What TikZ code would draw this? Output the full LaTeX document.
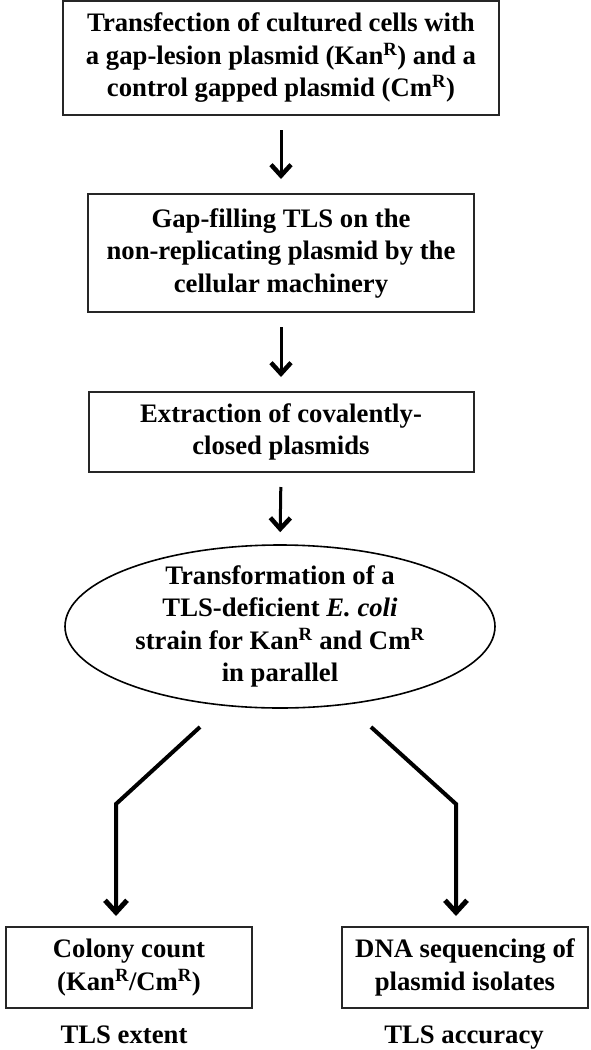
\documentclass[tikz,border=0pt]{standalone}
\usepackage{fontspec}
\setmainfont{Liberation Serif}
\usetikzlibrary{shapes.geometric,arrows.meta}
\begin{document}
\begin{tikzpicture}[x=1pt,y=-1pt,
  txt/.style={font=\bfseries\fontsize{26.7}{32.5}\selectfont, align=center, inner sep=0pt},
  stepbox/.style={txt, draw=black!85, line width=2pt, rectangle},
  arr/.style={line width=3pt, -{Straight Barb[length=11pt,width=20pt,line width=4.5pt 0]}},
  arrb/.style={line width=4pt, line join=miter, -{Straight Barb[length=12pt,width=22pt,line width=5pt 0]}}]
\useasboundingbox (0,0) rectangle (591,1050);
\node[stepbox, minimum width=436pt, minimum height=114pt] (b1) at (281,58)
  {Transfection of cultured cells with\\ a gap-lesion plasmid (Kan\textsuperscript{R}) and a\\ control gapped plasmid (Cm\textsuperscript{R})};
\node[stepbox, minimum width=386pt, minimum height=118pt] (b2) at (281,253)
  {Gap-filling TLS on the\\ non-replicating plasmid by the\\ cellular machinery};
\node[stepbox, minimum width=385pt, minimum height=80pt] (b3) at (281,432)
  {Extraction of covalently-\\ closed plasmids};
\node[draw=black, line width=1.6pt, ellipse, minimum width=430pt, minimum height=163pt, inner sep=0pt] (e) at (280,626.5) {};
\node[txt] (et) at (e.center)
  {Transformation of a\\ TLS-deficient \textit{E. coli}\\ strain for Kan\textsuperscript{R} and Cm\textsuperscript{R}\\ in parallel};
\node[stepbox, minimum width=246pt, minimum height=81pt] (lb) at (129,967.5)
  {Colony count\\ (Kan\textsuperscript{R}/Cm\textsuperscript{R})};
\node[stepbox, minimum width=246pt, minimum height=81pt] (rb) at (465,967.5)
  {DNA sequencing of\\ plasmid isolates};
\node[txt, anchor=base] (lt) at (124,1043) {TLS extent};
\node[txt, anchor=base] (rt) at (464,1043) {TLS accuracy};
\draw[arr, shorten <=14pt, shorten >=14pt] (b1.south) -- (b2.north);
\draw[arr, shorten <=14pt, shorten >=14pt] (b2.south) -- (b3.north);
\draw[arr, shorten <=14pt, shorten >=12pt] (b3.south) -- (e.north);
\coordinate (ls) at (200,727);
\coordinate (lk) at (116,804);
\coordinate (rs) at (371,727);
\coordinate (rk) at (456,804);
\draw[arrb, shorten >=10pt] (ls) -- (lk) -- (lk |- lb.north);
\draw[arrb, shorten >=10pt] (rs) -- (rk) -- (rk |- rb.north);
\end{tikzpicture}
\end{document}
